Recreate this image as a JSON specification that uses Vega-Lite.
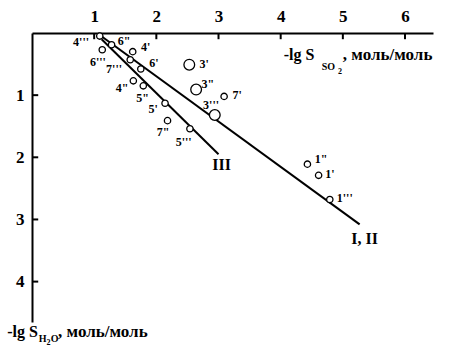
{
  "$schema": "https://vega.github.io/schema/vega-lite/v6.json",
  "width": 401,
  "height": 289,
  "autosize": {"type": "none"},
  "padding": {"left": 32, "top": 33, "right": 24, "bottom": 41},
  "background": "white",
  "config": {
    "view": {"stroke": null},
    "font": "Liberation Serif",
    "axis": {"grid": false, "ticks": false, "domainColor": "black", "domainWidth": 2, "labelFont": "Liberation Serif", "labelFontWeight": "bold", "labelFontSize": 17, "labelColor": "black", "format": "d"}
  },
  "datasets": {
    "xticks": [{"v": 1}, {"v": 2}, {"v": 3}, {"v": 4}, {"v": 5}, {"v": 6}],
    "yticks": [{"v": 1}, {"v": 2}, {"v": 3}, {"v": 4}],
    "points": [
      {"id": "4'''", "x": 1.09, "y": 0.05, "kind": "small"},
      {"id": "6\"", "x": 1.28, "y": 0.19, "kind": "small"},
      {"id": "6'''", "x": 1.13, "y": 0.27, "kind": "small"},
      {"id": "4'", "x": 1.62, "y": 0.30, "kind": "small"},
      {"id": "7'''", "x": 1.58, "y": 0.43, "kind": "small"},
      {"id": "6'", "x": 1.75, "y": 0.58, "kind": "small"},
      {"id": "4\"", "x": 1.63, "y": 0.77, "kind": "small"},
      {"id": "5\"", "x": 1.79, "y": 0.85, "kind": "small"},
      {"id": "5'", "x": 2.14, "y": 1.13, "kind": "small"},
      {"id": "7\"", "x": 2.18, "y": 1.41, "kind": "small"},
      {"id": "5'''", "x": 2.54, "y": 1.54, "kind": "small"},
      {"id": "3'", "x": 2.53, "y": 0.51, "kind": "large"},
      {"id": "3\"", "x": 2.64, "y": 0.91, "kind": "large"},
      {"id": "3'''", "x": 2.94, "y": 1.32, "kind": "large"},
      {"id": "7'", "x": 3.09, "y": 1.02, "kind": "small"},
      {"id": "1\"", "x": 4.43, "y": 2.11, "kind": "small"},
      {"id": "1'", "x": 4.61, "y": 2.29, "kind": "small"},
      {"id": "1'''", "x": 4.79, "y": 2.68, "kind": "small"}
    ],
    "lines": [
      {"line": "I, II", "x": 1.10, "y": 0.04},
      {"line": "I, II", "x": 5.27, "y": 3.08},
      {"line": "III", "x": 1.12, "y": 0.10},
      {"line": "III", "x": 3.00, "y": 1.95}
    ],
    "pointLabels": [
      {"label": "4'''", "x": 0.79, "y": 0.15},
      {"label": "6\"", "x": 1.48, "y": 0.13},
      {"label": "4'", "x": 1.83, "y": 0.23},
      {"label": "6'''", "x": 1.06, "y": 0.47},
      {"label": "7'''", "x": 1.32, "y": 0.58},
      {"label": "6'", "x": 1.96, "y": 0.48},
      {"label": "3'", "x": 2.77, "y": 0.50},
      {"label": "3\"", "x": 2.83, "y": 0.82},
      {"label": "7'", "x": 3.30, "y": 1.00},
      {"label": "3'''", "x": 2.88, "y": 1.16},
      {"label": "4\"", "x": 1.45, "y": 0.89},
      {"label": "5\"", "x": 1.78, "y": 1.05},
      {"label": "5'", "x": 1.95, "y": 1.23},
      {"label": "7\"", "x": 2.11, "y": 1.60},
      {"label": "5'''", "x": 2.44, "y": 1.76},
      {"label": "1\"", "x": 4.65, "y": 2.03},
      {"label": "1'", "x": 4.79, "y": 2.27},
      {"label": "1'''", "x": 5.03, "y": 2.66}
    ],
    "lineLabels": [
      {"label": "III", "x": 3.05, "y": 2.13},
      {"label": "I, II", "x": 5.35, "y": 3.31}
    ],
    "titleLead": [
      {"t": "-lg S", "x": 4.05, "y": 0.435},
      {"t": "-lg S", "x": -0.40, "y": 4.89}
    ],
    "titleTail": [
      {"t": ", моль/моль", "x": 5.0, "y": 0.435},
      {"t": ", моль/моль", "x": 0.42, "y": 4.89}
    ],
    "titleSub": [
      {"t": "SO", "x": 4.66, "y": 0.60},
      {"t": "H", "x": 0.11, "y": 4.97},
      {"t": "O", "x": 0.30, "y": 4.97}
    ],
    "titleSubSub": [
      {"t": "2", "x": 4.92, "y": 0.66},
      {"t": "2", "x": 0.235, "y": 5.02}
    ]
  },
  "layer": [
    {
      "data": {"name": "lines"},
      "mark": {"type": "line", "color": "black", "strokeWidth": 2},
      "encoding": {
        "x": {"field": "x", "type": "quantitative", "scale": {"domain": [0, 6.45], "nice": false, "zero": false},
          "axis": {"orient": "top", "values": [1, 2, 3, 4, 5, 6], "title": null, "labelPadding": 8, "labelAngle": 0}},
        "y": {"field": "y", "type": "quantitative", "scale": {"domain": [0, 4.65], "nice": false, "zero": false, "reverse": true},
          "axis": {"orient": "left", "values": [1, 2, 3, 4], "title": null, "labelPadding": 8}},
        "detail": {"field": "line", "type": "nominal"}
      }
    },
    {
      "data": {"name": "xticks"},
      "mark": {"type": "rule", "color": "black", "strokeWidth": 2},
      "encoding": {
        "x": {"field": "v", "type": "quantitative"},
        "y": {"datum": 0},
        "y2": {"datum": 0.1}
      }
    },
    {
      "data": {"name": "yticks"},
      "mark": {"type": "rule", "color": "black", "strokeWidth": 2},
      "encoding": {
        "y": {"field": "v", "type": "quantitative"},
        "x": {"datum": 0},
        "x2": {"datum": 0.1}
      }
    },
    {
      "data": {"name": "points"},
      "mark": {"type": "point", "shape": "circle", "filled": true, "fill": "white", "stroke": "black", "strokeWidth": 1.3, "opacity": 1},
      "encoding": {
        "x": {"field": "x", "type": "quantitative"},
        "y": {"field": "y", "type": "quantitative"},
        "size": {"field": "kind", "type": "nominal", "scale": {"domain": ["small", "large"], "range": [40, 115]}, "legend": null}
      }
    },
    {
      "data": {"name": "pointLabels"},
      "mark": {"type": "text", "font": "Liberation Serif", "fontWeight": "bold", "fontSize": 12, "color": "black", "align": "center", "baseline": "middle"},
      "encoding": {
        "x": {"field": "x", "type": "quantitative"},
        "y": {"field": "y", "type": "quantitative"},
        "text": {"field": "label"}
      }
    },
    {
      "data": {"name": "lineLabels"},
      "mark": {"type": "text", "font": "Liberation Serif", "fontWeight": "bold", "fontSize": 16, "color": "black", "align": "center", "baseline": "middle"},
      "encoding": {
        "x": {"field": "x", "type": "quantitative"},
        "y": {"field": "y", "type": "quantitative"},
        "text": {"field": "label"}
      }
    },
    {
      "data": {"name": "titleLead"},
      "mark": {"type": "text", "font": "Liberation Serif", "fontWeight": "bold", "fontSize": 16, "color": "black", "align": "left", "baseline": "alphabetic"},
      "encoding": {
        "x": {"field": "x", "type": "quantitative"},
        "y": {"field": "y", "type": "quantitative"},
        "text": {"field": "t"}
      }
    },
    {
      "data": {"name": "titleTail"},
      "mark": {"type": "text", "font": "Liberation Serif", "fontWeight": "bold", "fontSize": 17, "color": "black", "align": "left", "baseline": "alphabetic"},
      "encoding": {
        "x": {"field": "x", "type": "quantitative"},
        "y": {"field": "y", "type": "quantitative"},
        "text": {"field": "t"}
      }
    },
    {
      "data": {"name": "titleSub"},
      "mark": {"type": "text", "font": "Liberation Serif", "fontWeight": "bold", "fontSize": 10, "color": "black", "align": "left", "baseline": "alphabetic"},
      "encoding": {
        "x": {"field": "x", "type": "quantitative"},
        "y": {"field": "y", "type": "quantitative"},
        "text": {"field": "t"}
      }
    },
    {
      "data": {"name": "titleSubSub"},
      "mark": {"type": "text", "font": "Liberation Serif", "fontWeight": "bold", "fontSize": 8, "color": "black", "align": "left", "baseline": "alphabetic"},
      "encoding": {
        "x": {"field": "x", "type": "quantitative"},
        "y": {"field": "y", "type": "quantitative"},
        "text": {"field": "t"}
      }
    }
  ]
}
